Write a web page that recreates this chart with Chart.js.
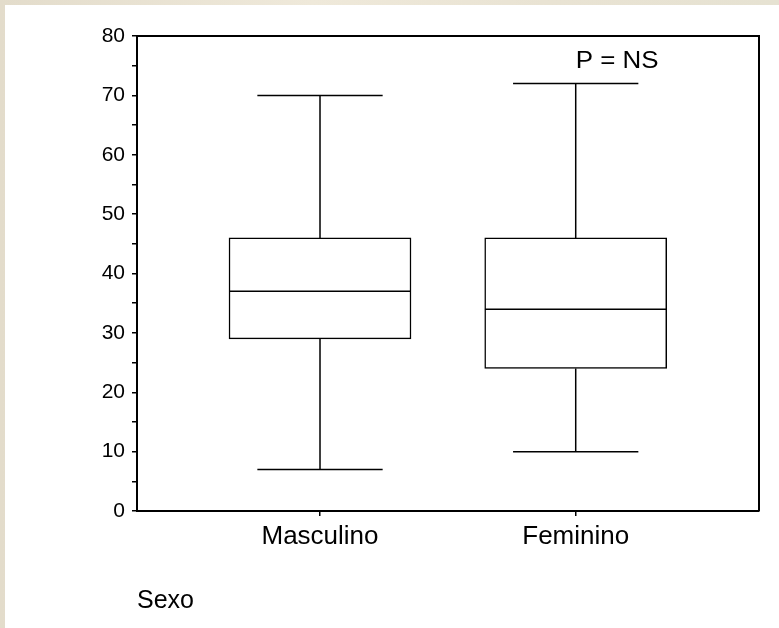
<!DOCTYPE html>
<html>
<head>
<meta charset="utf-8">
<script src="https://cdn.jsdelivr.net/npm/chart.js@4"></script>
<style>
  html, body { margin: 0; padding: 0; background: #fff; }
  #frame {
    position: relative;
    width: 779px; height: 628px;
    background: linear-gradient(90deg, #e3dccb 0%, #efe9da 40%, #e9e3d3 70%, #e6e2d2 100%);
  }
  #panel {
    position: absolute; left: 5px; top: 5px; right: 0; bottom: 0;
    background: #fff;
  }
  #chart { position: absolute; left: 0; top: 0; }
</style>
</head>
<body>
<div id="frame">
  <div id="panel"></div>
  <canvas id="chart" width="779" height="628"></canvas>
</div>
<script>
// categories and box-plot values
const categories = ["Masculino", "Feminino"];
const positions = [1, 2];
const whiskerLow = [7, 10];
const q1 = [29, 24];
const median = [37, 34];
const q3 = [46, 46];
const whiskerHigh = [70, 72];
const yTicks = [0, 10, 20, 30, 40, 50, 60, 70, 80];
const note = "P = NS";

const FONT = "'Liberation Sans', Arial, sans-serif";

// whiskers, caps, median and frame drawn from the scales
const boxExtras = {
  id: "boxExtras",
  afterDatasetsDraw(chart) {
    const { ctx, scales: { x, y }, chartArea } = chart;
    ctx.save();
    ctx.strokeStyle = "#000";
    ctx.lineWidth = 1.5;
    positions.forEach(function (p, i) {
      const cx = x.getPixelForValue(p);
      const boxHalf = (x.getPixelForValue(p + 0.355) - cx);
      const capHalf = (x.getPixelForValue(p + 0.245) - cx);
      ctx.beginPath();
      // upper whisker + cap
      ctx.moveTo(cx, y.getPixelForValue(q3[i]));
      ctx.lineTo(cx, y.getPixelForValue(whiskerHigh[i]));
      ctx.moveTo(cx - capHalf, y.getPixelForValue(whiskerHigh[i]));
      ctx.lineTo(cx + capHalf, y.getPixelForValue(whiskerHigh[i]));
      // lower whisker + cap
      ctx.moveTo(cx, y.getPixelForValue(q1[i]));
      ctx.lineTo(cx, y.getPixelForValue(whiskerLow[i]));
      ctx.moveTo(cx - capHalf, y.getPixelForValue(whiskerLow[i]));
      ctx.lineTo(cx + capHalf, y.getPixelForValue(whiskerLow[i]));
      // median
      ctx.moveTo(cx - boxHalf, y.getPixelForValue(median[i]));
      ctx.lineTo(cx + boxHalf, y.getPixelForValue(median[i]));
      ctx.stroke();
    });
    // top and right frame
    ctx.lineWidth = 2;
    ctx.beginPath();
    ctx.moveTo(chartArea.left, chartArea.top);
    ctx.lineTo(chartArea.right, chartArea.top);
    ctx.lineTo(chartArea.right, chartArea.bottom);
    ctx.stroke();
    // annotation
    ctx.fillStyle = "#000";
    ctx.font = "24px " + FONT;
    ctx.textAlign = "left";
    ctx.textBaseline = "middle";
    ctx.translate(x.getPixelForValue(positions[1]), y.getPixelForValue(75.7));
    ctx.scale(1.08, 1);
    ctx.fillText(note, 0, 0);
    ctx.restore();
  }
};

new Chart(document.getElementById("chart"), {
  type: "bar",
  data: {
    datasets: [{
      data: positions.map(function (p, i) { return { x: p, y: [q1[i], q3[i]] }; }),
      backgroundColor: "#fff",
      borderColor: "#000",
      borderWidth: 1.5,
      borderSkipped: false,
      barThickness: 182
    }]
  },
  options: {
    responsive: false,
    devicePixelRatio: 1,
    animation: false,
    layout: { padding: { top: 36, right: 20, left: 0, bottom: 0 } },
    plugins: { legend: { display: false }, tooltip: { enabled: false } },
    scales: {
      x: {
        type: "linear",
        min: 0.2843,
        max: 2.7168,
        offset: false,
        afterFit: function (s) { s.height = 117; },
        afterBuildTicks: function (s) { s.ticks = positions.map(function (p) { return { value: p }; }); },
        grid: { offset: false, drawOnChartArea: false, drawTicks: true, tickLength: 5, color: "#000", lineWidth: 1.5 },
        border: { color: "#000", width: 2 },
        ticks: {
          color: "#000",
          padding: 5,
          font: { family: FONT, size: 26 },
          callback: function (v) { const i = positions.indexOf(v); return i >= 0 ? categories[i] : ""; }
        },
        title: {
          display: true,
          text: "Sexo",
          align: "start",
          color: "#000",
          font: { family: FONT, size: 25 },
          padding: { top: 0, bottom: 12 }
        }
      },
      y: {
        min: 0,
        max: 80,
        afterFit: function (s) { s.width = 137; },
        afterBuildTicks: function (s) {
          const t = [];
          for (let v = 0; v <= 80; v += 5) t.push({ value: v });
          s.ticks = t;
        },
        grid: { drawOnChartArea: false, drawTicks: true, tickLength: 5, color: "#000", lineWidth: 1.5 },
        border: { color: "#000", width: 2 },
        ticks: {
          color: "#000",
          padding: 7,
          autoSkip: false,
          font: { family: FONT, size: 21 },
          callback: function (v) { return yTicks.indexOf(v) >= 0 ? String(v) : ""; }
        }
      }
    }
  },
  plugins: [boxExtras]
});
</script>
</body>
</html>
